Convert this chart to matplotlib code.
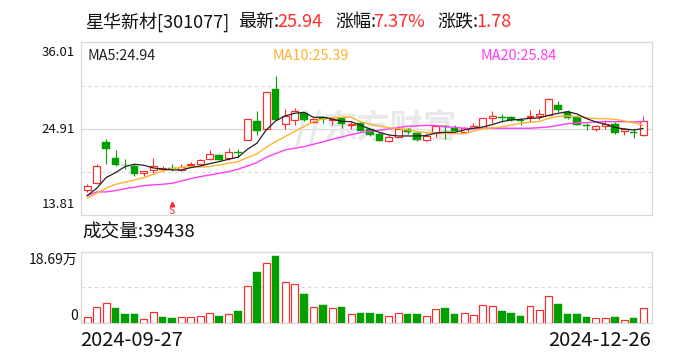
import matplotlib
matplotlib.use("Agg")
import matplotlib.pyplot as plt

plt.rcParams['font.family'] = ['Noto Sans CJK SC', 'DejaVu Sans']

W, H = 688, 360
RED = '#ff2a2a'
GREEN = '#00a000'
GRID = '#d9d9d9'
ORANGE = '#ffb22e'
PINK = '#ff3df5'
MARK = '#e9e9ed'

opens = [17.11, 18.00, 23.18, 21.17, 20.31, 20.19, 19.29, 19.59, 19.80, 19.84,
         19.59, 20.23, 20.44, 21.00, 21.51, 21.17, 21.90, 23.44, 25.92, 24.93,
         29.98, 25.57, 26.00, 26.90, 25.83, 26.39, 26.00, 26.26, 25.45, 25.62,
         24.85, 24.25, 23.39, 23.82, 24.85, 24.42, 23.44, 24.33, 25.28, 25.02,
         24.55, 25.02, 25.06, 26.34, 26.43, 26.39, 26.04, 26.43, 26.52, 26.69,
         27.97, 27.11, 26.39, 25.36, 24.93, 25.23, 25.49, 24.63, 24.50, 24.16]
closes = [17.58, 20.10, 22.37, 20.31, 20.23, 19.16, 19.50, 20.19, 19.89, 19.76,
          20.06, 20.36, 20.87, 21.64, 20.95, 21.90, 21.81, 26.13, 24.68, 29.60,
          26.04, 26.52, 27.16, 26.04, 26.13, 26.13, 26.17, 25.57, 25.53, 24.68,
          24.16, 23.39, 23.82, 24.85, 24.55, 23.44, 23.95, 25.23, 25.19, 24.63,
          24.98, 25.23, 26.26, 26.52, 26.34, 26.00, 25.92, 26.56, 26.81, 28.70,
          27.37, 26.34, 25.45, 25.23, 25.23, 25.57, 24.42, 24.85, 24.33, 25.94]
highs = [17.83, 20.40, 23.61, 22.20, 21.00, 20.40, 19.50, 21.21, 20.14, 20.40,
         20.36, 20.61, 21.00, 22.20, 21.64, 22.45, 22.32, 26.13, 27.20, 29.60,
         31.69, 27.41, 27.54, 27.07, 26.34, 26.52, 26.34, 26.34, 25.83, 25.79,
         24.98, 24.55, 24.08, 25.28, 24.98, 24.55, 24.33, 25.32, 25.36, 25.36,
         25.10, 25.62, 26.26, 27.20, 26.77, 26.52, 26.30, 27.33, 27.46, 28.91,
         28.48, 27.33, 26.64, 25.66, 25.36, 26.04, 25.83, 24.98, 24.85, 26.56]
lows = [16.85, 17.88, 20.40, 20.19, 19.72, 18.86, 18.90, 19.29, 19.54, 19.54,
        19.54, 19.97, 20.23, 20.87, 20.87, 20.91, 21.34, 23.44, 24.12, 24.93,
        26.04, 24.85, 25.45, 25.92, 25.66, 25.70, 25.45, 25.02, 24.85, 24.63,
        23.99, 23.35, 23.27, 23.78, 24.25, 23.35, 23.39, 23.91, 23.65, 24.59,
        24.38, 24.93, 24.98, 25.70, 25.83, 25.87, 25.45, 25.79, 26.22, 26.56,
        27.03, 26.17, 25.36, 24.76, 24.68, 24.89, 24.29, 24.12, 23.78, 24.04]

ma5 = [16.34, 17.28, 18.65, 19.29, 20.06, 20.36, 20.23, 19.89, 19.72, 19.63,
       19.63, 19.93, 20.14, 20.44, 20.70, 21.00, 21.26, 22.28, 23.05, 24.76,
       25.92, 26.56, 26.90, 27.03, 26.39, 26.39, 26.17, 25.87, 25.83, 25.36,
       24.89, 24.46, 24.12, 23.99, 23.99, 23.99, 24.04, 24.38, 24.46, 24.46,
       24.76, 24.98, 25.15, 25.45, 25.83, 26.04, 26.13, 26.26, 26.30, 26.64,
       26.90, 27.11, 26.81, 26.22, 25.79, 25.49, 25.10, 24.89, 24.76, 24.94]
ma10 = [16.05, 16.64, 17.28, 17.79, 18.05, 18.35, 18.65, 19.07, 19.50, 19.80,
        19.97, 20.06, 20.01, 20.06, 20.27, 20.49, 20.70, 21.21, 21.68, 22.54,
        23.27, 23.91, 24.55, 25.19, 25.83, 26.17, 26.34, 26.39, 26.39, 25.83,
        25.49, 25.28, 25.06, 24.93, 24.76, 24.55, 24.42, 24.38, 24.33, 24.29,
        24.29, 24.59, 24.93, 25.02, 25.15, 25.40, 25.62, 25.75, 25.87, 26.26,
        26.52, 26.56, 26.47, 26.34, 26.22, 26.22, 26.13, 25.92, 25.70, 25.39]
ma20 = [16.34, 16.81, 16.81, 16.98, 17.23, 17.41, 17.62, 17.71, 17.79, 17.92,
        18.22, 18.52, 18.77, 18.99, 19.20, 19.42, 19.72, 20.14, 20.57, 21.26,
        21.73, 22.20, 22.41, 22.62, 22.92, 23.22, 23.56, 23.86, 24.16, 24.42,
        24.59, 24.72, 24.89, 25.06, 25.23, 25.28, 25.36, 25.32, 25.19, 25.10,
        24.98, 24.93, 24.98, 24.98, 24.98, 24.98, 24.98, 24.98, 25.06, 25.15,
        25.36, 25.57, 25.66, 25.70, 25.79, 25.83, 25.83, 25.83, 25.79, 25.84]

# volume in units of 10,000 shares
volumes = [1.67, 4.30, 5.35, 3.86, 2.28, 2.28, 1.14, 2.98, 1.49, 1.23,
           1.67, 1.67, 1.93, 2.72, 1.76, 2.46, 3.07, 9.83, 13.34, 15.62,
           17.55, 10.88, 10.35, 7.55, 4.30, 4.65, 4.04, 4.12, 2.46, 2.54,
           2.54, 2.28, 1.93, 2.72, 2.28, 2.28, 1.93, 3.77, 3.86, 2.28,
           2.72, 2.19, 4.83, 4.56, 3.07, 2.54, 1.76, 4.56, 3.51, 7.20,
           4.91, 2.28, 2.28, 1.49, 1.40, 1.40, 1.49, 0.88, 1.23, 3.94]
vol_up = [1, 1, 1, 0, 0, 0, 1, 1, 0, 0,
          1, 1, 1, 1, 0, 1, 0, 1, 0, 1,
          0, 1, 1, 0, 1, 0, 1, 0, 1, 0,
          0, 0, 1, 1, 0, 0, 1, 1, 0, 0,
          1, 1, 1, 1, 0, 0, 0, 1, 1, 1,
          0, 0, 0, 0, 1, 1, 0, 1, 0, 1]

price_max, price_mid, price_min = 36.01, 24.91, 13.81
vol_max = 18.69
signal_idx = 9
signal_price = 14.35
signal_arrow = 15.2


def panel(top, bottom):
    left, right = 80.5, 651.5
    ax = fig.add_axes([left / W, 1 - bottom / H, (right - left) / W, (bottom - top) / H])
    ax.set_xlim(-0.72, 59.9)
    ax.set_xticks([])
    ax.set_yticks([])
    for s in ax.spines.values():
        s.set_color(GRID)
        s.set_linewidth(0.9)
    return ax


def label(x, y, s, color='#111111', size=13, ha='left'):
    fig.text(x / W, 1 - y / H, s, color=color, fontsize=size, ha=ha, va='center')


fig = plt.figure(figsize=(W / 100, H / 100), dpi=100)

ax = panel(42.3, 215.3)
ax.set_ylim(price_min, price_max)
for p in [(price_max + price_mid) / 2, (price_min + price_mid) / 2]:
    ax.axhline(p, color=GRID, lw=0.8, ls=(0, (3, 3)), zorder=1)
ax.axhline(price_mid, color=GRID, lw=0.9, zorder=1)
# watermark
ax.text(32.1, 24.9, '东方财富', color=MARK, fontsize=24, fontweight='bold',
        ha='center', va='center', style='italic', zorder=1)
ax.text(23.5, 24.9, '//', color=MARK, fontsize=26, fontweight='bold',
        ha='center', va='center', style='italic', zorder=1)

for i in range(len(opens)):
    o, c = opens[i], closes[i]
    up = c >= o
    col = RED if up else GREEN
    ax.vlines(i, lows[i], highs[i], color=col, lw=0.8, zorder=2)
    if up:
        ax.bar(i, c - o, bottom=o, width=0.74, facecolor='white', edgecolor=col, lw=0.85, zorder=3)
    else:
        ax.bar(i, o - c, bottom=c, width=0.8, facecolor=col, edgecolor=col, lw=0.3, zorder=3)

xs = list(range(len(ma5)))
ax.plot(xs, ma20, color=PINK, lw=1, zorder=4)
ax.plot(xs, ma10, color=ORANGE, lw=1, zorder=4)
ax.plot(xs, ma5, color='#222222', lw=0.9, zorder=5)

ax.plot(signal_idx, signal_arrow, marker='^', ms=3.2, color=RED, zorder=5)
ax.text(signal_idx, signal_price, 'S', color=RED, fontsize=7.5,
        ha='center', va='center', zorder=5)

vax = panel(251.7, 323.2)
vax.set_ylim(0, vol_max)
vax.axhline(vol_max / 2, color=GRID, lw=0.8, ls=(0, (3, 3)), zorder=1)
for i, v in enumerate(volumes):
    if vol_up[i]:
        vax.bar(i, v, width=0.74, facecolor='white', edgecolor=RED, lw=0.85, zorder=3)
    else:
        vax.bar(i, v, width=0.8, facecolor=GREEN, edgecolor=GREEN, lw=0.3, zorder=3)

# header
label(85, 22, '星华新材[301077]')
label(238, 22, '最新:')
label(277, 22, '25.94', RED)
label(335, 22, '涨幅:')
label(373, 22, '7.37%', RED)
label(437, 22, '涨跌:')
label(476, 22, '1.78', RED)

label(75, 52, f'{price_max:.2f}', size=9.5, ha='right')
label(75, 129, f'{price_mid:.2f}', size=9.5, ha='right')
label(75, 205, f'{price_min:.2f}', size=9.5, ha='right')

label(87.5, 56, 'MA5:24.94', '#222222', size=10.4)
label(272, 56, 'MA10:25.39', ORANGE, size=10.4)
label(480, 56, 'MA20:25.84', PINK, size=10.4)

label(82, 232, '成交量:39438', size=13.4)
label(78, 260, '18.69万', size=10, ha='right')
label(78, 316, '0', size=10, ha='right')
label(80, 340, '2024-09-27', size=14.5)
label(651, 340, '2024-12-26', size=14.5, ha='right')

fig.savefig('out.png', dpi=100)
